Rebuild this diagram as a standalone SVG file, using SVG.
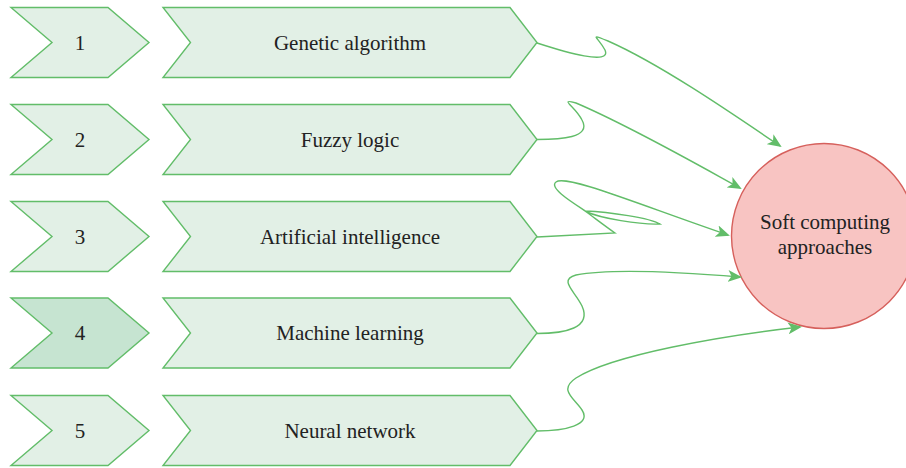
<svg xmlns="http://www.w3.org/2000/svg" width="906" height="468" viewBox="0 0 906 468">
  <defs>
    <style>
      .step { fill: #e2f0e6; stroke: #62bd69; stroke-width: 1.4; }
      .step.hl { fill: #c6e4d1; }
      .label { font-family: 'Liberation Serif', 'DejaVu Serif', serif; font-size: 21px; fill: #222; text-anchor: middle; }
      .edge { fill: none; stroke: #62bd69; stroke-width: 1.4; marker-end: url(#arrow); }
      .hub { fill: #f8c4c2; stroke: #d6605c; stroke-width: 1.4; }
    </style>
    <marker id="arrow" viewBox="0 0 14 12" refX="12" refY="6" markerWidth="14" markerHeight="12" markerUnits="userSpaceOnUse" orient="auto">
      <path d="M0,0 L14,6 L0,12 L3.5,6 Z" fill="#62bd69"/>
    </marker>
    <!-- chevron outlines, positioned per row -->
    <path id="numShape" d="M11,0 L108,0 L149,35 L108,70 L11,70 L52,35 Z"/>
    <path id="nameShape" d="M163,0 L510,0 L537,35 L510,70 L163,70 L190.5,35 Z"/>
  </defs>

  <!-- row 1 -->
  <g id="step1" transform="translate(0,7.5)">
    <use href="#numShape" class="step"/>
    <text class="label" font-family="Liberation Serif, serif" x="80" y="42">1</text>
  </g>
  <g id="genetic-algorithm" transform="translate(0,7.5)">
    <use href="#nameShape" class="step"/>
    <text class="label" font-family="Liberation Serif, serif" x="350" y="42">Genetic algorithm</text>
  </g>

  <!-- row 2 -->
  <g id="step2" transform="translate(0,104.5)">
    <use href="#numShape" class="step"/>
    <text class="label" font-family="Liberation Serif, serif" x="80" y="42">2</text>
  </g>
  <g id="fuzzy-logic" transform="translate(0,104.5)">
    <use href="#nameShape" class="step"/>
    <text class="label" font-family="Liberation Serif, serif" x="350" y="42">Fuzzy logic</text>
  </g>

  <!-- row 3 -->
  <g id="step3" transform="translate(0,201.5)">
    <use href="#numShape" class="step"/>
    <text class="label" font-family="Liberation Serif, serif" x="80" y="42">3</text>
  </g>
  <g id="artificial-intelligence" transform="translate(0,201.5)">
    <use href="#nameShape" class="step"/>
    <text class="label" font-family="Liberation Serif, serif" x="350" y="42">Artificial intelligence</text>
  </g>

  <!-- row 4 -->
  <g id="step4" transform="translate(0,298)">
    <use href="#numShape" class="step hl"/>
    <text class="label" font-family="Liberation Serif, serif" x="80" y="42">4</text>
  </g>
  <g id="machine-learning" transform="translate(0,298)">
    <use href="#nameShape" class="step"/>
    <text class="label" font-family="Liberation Serif, serif" x="350" y="42">Machine learning</text>
  </g>

  <!-- row 5 -->
  <g id="step5" transform="translate(0,395.5)">
    <use href="#numShape" class="step"/>
    <text class="label" font-family="Liberation Serif, serif" x="80" y="42">5</text>
  </g>
  <g id="neural-network" transform="translate(0,395.5)">
    <use href="#nameShape" class="step"/>
    <text class="label" font-family="Liberation Serif, serif" x="350" y="42">Neural network</text>
  </g>

  <!-- target -->
  <g id="soft-computing">
    <circle class="hub" cx="824" cy="236" r="92.5"/>
    <text class="label" font-family="Liberation Serif, serif" x="825" y="229">Soft computing</text>
    <text class="label" font-family="Liberation Serif, serif" x="825" y="254">approaches</text>
  </g>

  <!-- connectors -->
  <g id="connectors">
    <path class="edge" d="M537,43 C565,52 612,66 605,50 C598,37 588,33 608,41 C660,64 730,112 780,146"/>
    <path class="edge" d="M537,139.5 C560,139.5 592,138 582,120 C575,106 558,98 576,103 C630,126 700,166 740,188"/>
    <path class="edge" d="M537,237 L615,233 C605,226 592,216 585,211 C610,212 650,218 660,224 C640,225 600,218 587,212 C575,204 548,188 556,182 C566,174 640,205 728,235"/>
    <path class="edge" d="M537,333.5 C565,333.5 592,328 582,306 C575,291 558,280 576,275 C612,268 680,272 740,277"/>
    <path class="edge" d="M537,431 C565,431 592,425 582,410 C574,398 558,390 576,378 C612,355 720,336 800,327"/>
  </g>
</svg>
